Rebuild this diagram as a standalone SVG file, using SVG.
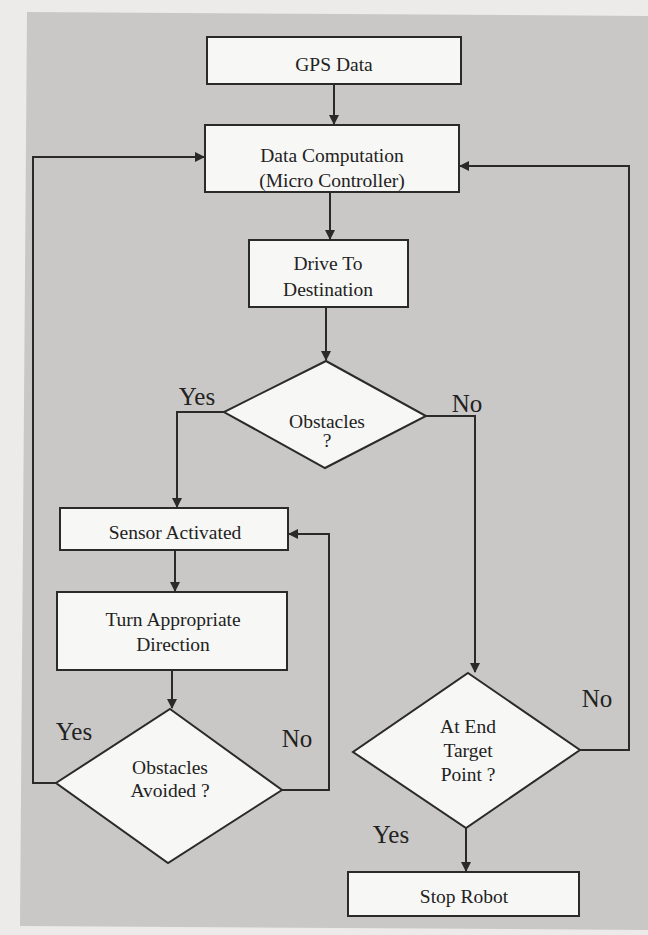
<svg xmlns="http://www.w3.org/2000/svg" width="648" height="935" viewBox="0 0 648 935">
<defs>
<marker id="ah" markerWidth="10" markerHeight="10" refX="9" refY="5" orient="auto" markerUnits="userSpaceOnUse">
<path d="M0,0 L10,5 L0,10 Z" fill="#2a2a2a"/>
</marker>
</defs>
<style>
.bg{fill:#c9c8c6}
.n{fill:#f7f7f5;stroke:#2a2a2a;stroke-width:2}
.t{font-family:'Liberation Serif','Times New Roman',Times,'DejaVu Serif',serif;font-size:19.5px;fill:#222;text-anchor:middle}
.l{font-family:'Liberation Serif','Times New Roman',Times,'DejaVu Serif',serif;font-size:25px;fill:#222;text-anchor:middle}
.c{fill:none;stroke:#2a2a2a;stroke-width:2}
</style>
<rect x="0" y="0" width="648" height="935" fill="#ecebea"/>
<polygon class="bg" points="27,12 648,16 648,930 20,926"/>

<g id="gps">
<rect class="n" x="207" y="37" width="254" height="47"/>
<text class="t" x="334" y="71">GPS Data</text>
</g>
<g id="compute">
<rect class="n" x="205" y="125" width="254" height="67"/>
<text class="t" x="332" y="162">Data Computation</text>
<text class="t" x="332" y="187">(Micro Controller)</text>
</g>
<g id="drive">
<rect class="n" x="249" y="240" width="159" height="67"/>
<text class="t" x="328" y="270">Drive To</text>
<text class="t" x="328" y="296">Destination</text>
</g>
<g id="obstacles">
<polygon class="n" points="326,361 426,416 325,468 224,412"/>
<text class="t" x="327" y="428">Obstacles</text>
<text class="t" x="327" y="447">?</text>
</g>
<g id="sensor">
<rect class="n" x="60" y="508" width="228" height="42"/>
<text class="t" x="175" y="539">Sensor Activated</text>
</g>
<g id="turn">
<rect class="n" x="57" y="592" width="230" height="78"/>
<text class="t" x="173" y="626">Turn Appropriate</text>
<text class="t" x="173" y="651">Direction</text>
</g>
<g id="avoided">
<polygon class="n" points="170,709 282,790 168,863 56,783"/>
<text class="t" x="170" y="774">Obstacles</text>
<text class="t" x="170" y="797">Avoided ?</text>
</g>
<g id="target">
<polygon class="n" points="468,673 580,750 466,828 353,752"/>
<text class="t" x="468" y="733">At End</text>
<text class="t" x="468" y="757">Target</text>
<text class="t" x="468" y="781">Point ?</text>
</g>
<g id="stop">
<rect class="n" x="348" y="872" width="231" height="44"/>
<text class="t" x="464" y="903">Stop Robot</text>
</g>

<g id="connectors">
<line class="c" x1="334" y1="84" x2="334" y2="124" marker-end="url(#ah)"/>
<line class="c" x1="330" y1="192" x2="330" y2="239" marker-end="url(#ah)"/>
<line class="c" x1="326" y1="307" x2="326" y2="360" marker-end="url(#ah)"/>
<polyline class="c" points="224,412 177,412 177,507" marker-end="url(#ah)"/>
<polyline class="c" points="426,416 475,416 475,672" marker-end="url(#ah)"/>
<line class="c" x1="175" y1="550" x2="175" y2="591" marker-end="url(#ah)"/>
<line class="c" x1="172" y1="670" x2="172" y2="708" marker-end="url(#ah)"/>
<polyline class="c" points="56,783 33,783 33,157 204,157" marker-end="url(#ah)"/>
<polyline class="c" points="282,790 329,790 329,534 289,534" marker-end="url(#ah)"/>
<polyline class="c" points="580,750 629,750 629,166 460,166" marker-end="url(#ah)"/>
<line class="c" x1="466" y1="828" x2="466" y2="871" marker-end="url(#ah)"/>
<text class="l" x="197" y="405">Yes</text>
<text class="l" x="467" y="412">No</text>
<text class="l" x="74" y="740">Yes</text>
<text class="l" x="297" y="747">No</text>
<text class="l" x="597" y="707">No</text>
<text class="l" x="391" y="843">Yes</text>
</g>
</svg>
